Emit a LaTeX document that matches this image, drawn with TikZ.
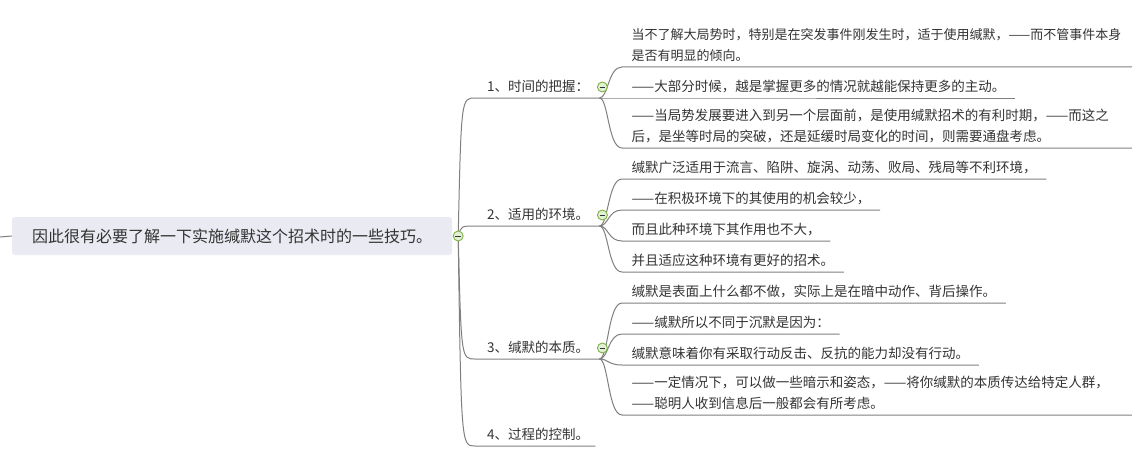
\documentclass[tikz,border=0pt]{standalone}
\usepackage{fontspec}
\setmainfont{Noto Sans CJK SC}
\definecolor{txt}{HTML}{333333}
\definecolor{edge}{HTML}{7F7F7F}
\definecolor{topicfill}{HTML}{E9EAF2}
\definecolor{foldline}{HTML}{7CB342}
\definecolor{foldfill}{HTML}{E2F0D5}
\tikzset{
  topic/.style={fill=topicfill, rounded corners=3pt, minimum width=440pt, minimum height=38pt, inner sep=0pt, text=txt, font=\fontsize{16}{18}\selectfont},
  branch/.style={anchor=south west, text width=100pt, align=left, inner xsep=12pt, inner ysep=0pt, text depth=6pt, text=txt, font=\fontsize{13.5}{21}\selectfont},
  leaf/.style={anchor=south west, inner xsep=9.5pt, inner ysep=0pt, text depth=6pt, text=txt, font=\fontsize{13.5}{21}\selectfont},
  wire/.style={draw=edge, line width=1pt},
  fold/.style={circle, draw=foldline, fill=foldfill, line width=0.9pt, inner sep=0pt, minimum size=10pt,
    path picture={\draw[txt, line width=0.9pt] ([xshift=-2.8pt]path picture bounding box.center) -- ([xshift=2.8pt]path picture bounding box.center);}}
}
\begin{document}
\begin{tikzpicture}[x=1pt,y=-1pt]
		\useasboundingbox (0,0) rectangle (1132,452);
		%%%%%%%%%%%%%
		\node[topic] (a) at (232,236) {因此很有必要了解一下实施缄默这个招术时的一些技巧。};
		\node[branch] (b) at (475,98) {1、时间的把握：};
		\node[branch] (c) at (475,226) {2、适用的环境。};
		\node[branch] (d) at (475,359) {3、缄默的本质。};
		\node[branch, text width=96pt] (e) at (475,446) {4、过程的控制。};
		%%%%%%%%%%%%%
		\node[leaf, font=\fontsize{13}{21}\selectfont] (f) at (622,67) {\parbox[b]{540pt}{当不了解大局势时，特别是在突发事件刚发生时，适于使用缄默，——而不管事件本身\\是否有明显的倾向。}};
		\node[leaf] (g) at (622,98) {——大部分时候，越是掌握更多的情况就越能保持更多的主动。};
		\node[leaf] (h) at (622,148) {\parbox[b]{540pt}{——当局势发展要进入到另一个层面前，是使用缄默招术的有利时期，——而这之\\后，是坐等时局的突破，还是延缓时局变化的时间，则需要通盘考虑。}};
		\node[leaf] (i) at (622,179) {缄默广泛适用于流言、陷阱、旋涡、动荡、败局、残局等不利环境，};
		\node[leaf] (j) at (622,210) {——在积极环境下的其使用的机会较少，};
		\node[leaf] (k) at (622,241) {而且此种环境下其作用也不大，};
		\node[leaf] (l) at (622,272) {并且适应这种环境有更好的招术。};
		\node[leaf] (m) at (622,303) {缄默是表面上什么都不做，实际上是在暗中动作、背后操作。};
		\node[leaf] (n) at (622,334) {——缄默所以不同于沉默是因为：};
		\node[leaf] (o) at (622,365) {缄默意味着你有采取行动反击、反抗的能力却没有行动。};
		\node[leaf] (p) at (622,415) {\parbox[b]{540pt}{——一定情况下，可以做一些暗示和姿态，——将你缄默的本质传达给特定人群，\\——聪明人收到信息后一般都会有所考虑。}};
		%%%%%%%%%%%%%
		\coordinate (in) at (0,237);
		\coordinate (r) at ([xshift=6pt]a.east);
		\coordinate (rc) at ([xshift=9pt]a.east);
		\draw[wire] (in) -- (a.west);
		\draw[wire] (r) .. controls (rc |- b.south west) .. (b.south west) -- (b.south east);
		\draw[wire] (r) .. controls (rc |- c.south west) .. (c.south west) -- (c.south east);
		\draw[wire] (r) .. controls (rc |- d.south west) .. (d.south west) -- (d.south east);
		\draw[wire] (r) .. controls (rc |- e.south west) .. (e.south west) -- (e.south east);
		\draw[wire] (b.south east) .. controls +(9,0) and +(-14,0) .. (f.south west) -- (f.south east);
		\draw[wire] (b.south east) -- (g.south west) -- (g.south east);
		\draw[wire] (b.south east) .. controls +(9,0) and +(-14,0) .. (h.south west) -- (h.south east);
		\draw[wire] (c.south east) .. controls +(9,0) and +(-14,0) .. (i.south west) -- (i.south east);
		\draw[wire] (c.south east) .. controls +(9,0) and +(-14,0) .. (j.south west) -- (j.south east);
		\draw[wire] (c.south east) .. controls +(9,0) and +(-14,0) .. (k.south west) -- (k.south east);
		\draw[wire] (c.south east) .. controls +(9,0) and +(-14,0) .. (l.south west) -- (l.south east);
		\draw[wire] (d.south east) .. controls +(9,0) and +(-14,0) .. (m.south west) -- (m.south east);
		\draw[wire] (d.south east) .. controls +(9,0) and +(-14,0) .. (n.south west) -- (n.south east);
		\draw[wire] (d.south east) .. controls +(9,0) and +(-14,0) .. (o.south west) -- (o.south east);
		\draw[wire] (d.south east) .. controls +(9,0) and +(-14,0) .. (p.south west) -- (p.south east);
		%%%%%%%%%%%%%
		\node[fold] (a0) at (r) {};
		\node[fold, xshift=3pt, yshift=11pt] (b0) at (b.south east) {};
		\node[fold, xshift=3pt, yshift=11pt] (c0) at (c.south east) {};
		\node[fold, xshift=3pt, yshift=11pt] (d0) at (d.south east) {};
	\end{tikzpicture}
\end{document}
